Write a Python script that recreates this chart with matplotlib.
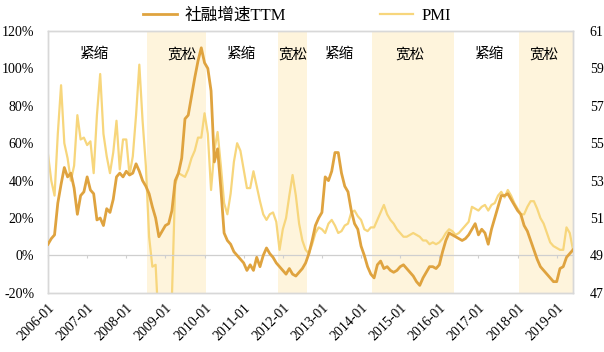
import matplotlib
matplotlib.use("Agg")
import matplotlib.pyplot as plt
import numpy as np
import pandas as pd
from matplotlib.ticker import FuncFormatter

plt.rcParams['font.family'] = ['Liberation Serif', 'Noto Sans CJK SC', 'DejaVu Sans']

# monthly, 2006-01 .. 2019-06
ttm = [6, 9, 11, 28, 38, 47, 42, 44, 36, 22, 32, 34,
       42, 35, 33, 19, 20, 16, 25, 23, 30, 42, 44, 42,
       45, 43, 44, 49, 45, 40, 37, 33, 26, 20, 10, 13,
       16, 17, 24, 40, 44, 52, 73, 75, 85, 95, 104, 111,
       103, 100, 88, 50, 57, 36, 12, 8, 6, 2, 0, -2,
       -4, -8, -5, -8, -1, -6, 0, 4, 1, -1, -4, -6,
       -8, -10, -7, -10, -11, -9, -7, -4, 1, 8, 16, 20,
       23, 42, 40, 45, 55, 55, 44, 37, 34, 24, 17, 14,
       5, 0, -6, -10, -12, -5, -3, -7, -6, -8, -9, -8,
       -6, -5, -7, -9, -11, -14, -16, -12, -9, -6, -6, -7,
       -5, 2, 8, 12, 11, 10, 9, 8, 9, 11, 14, 17,
       11, 14, 12, 6, 14, 20, 26, 32, 32, 33, 30, 27,
       24, 22, 16, 13, 8, 3, -2, -6, -8, -10, -12, -14,
       -14, -7, -6, -1, 1, 3]
pmi = [54.4, 53.0, 52.2, 55.5, 58.1, 55.0, 54.2, 53.0, 53.8, 56.5, 55.2, 55.3,
       54.9, 55.1, 53.4, 56.5, 58.7, 55.5, 54.3, 53.4, 54.5, 56.2, 53.6, 55.2,
       55.2, 53.3, 54.3, 56.5, 59.2, 56.2, 53.8, 50.0, 48.4, 48.5, 45.0, 42.0,
       42.0, 44.0, 46.8, 52.8, 53.4, 53.3, 53.2, 53.6, 54.2, 54.6, 55.3, 55.3,
       56.6, 55.5, 52.5, 54.6, 55.6, 53.8, 51.8, 51.2, 52.3, 54.0, 55.0, 54.6,
       53.6, 52.6, 52.6, 53.5, 52.7, 51.9, 51.2, 50.9, 51.2, 51.3, 50.8, 49.3,
       50.4, 51.0, 52.2, 53.3, 52.2, 50.7, 49.8, 49.3, 49.1, 49.6, 50.2, 50.5,
       50.4, 50.2, 50.7, 50.9, 50.6, 50.2, 50.3, 50.6, 50.7, 51.3, 51.4, 51.1,
       50.9, 50.4, 50.3, 50.5, 50.5, 50.9, 51.3, 51.7, 51.2, 50.9, 50.7, 50.4,
       50.2, 50.0, 50.0, 50.1, 50.2, 50.1, 50.0, 49.8, 49.8, 49.6, 49.7, 49.6,
       49.7, 49.9, 50.2, 50.4, 50.3, 50.1, 50.2, 50.4, 50.6, 50.8, 51.6, 51.5,
       51.4, 51.6, 51.7, 51.4, 51.7, 51.8, 52.2, 52.4, 52.1, 52.5, 52.2, 51.8,
       51.5, 51.2, 51.2, 51.6, 51.9, 51.9, 51.5, 51.0, 50.7, 50.2, 49.7, 49.5,
       49.4, 49.3, 49.3, 50.5, 50.2, 49.3]
months = pd.date_range("2006-01", periods=len(ttm), freq="MS").strftime("%Y-%m").tolist()

# easing periods
easing = [("2008-08", "2010-01"), ("2011-12", "2012-08"),
          ("2014-05", "2016-05"), ("2018-02", "2019-06")]
phase_labels = [("紧缩", "2007-03"), ("宽松", "2009-06"), ("紧缩", "2010-12"),
                ("宽松", "2012-04"), ("紧缩", "2013-06"), ("宽松", "2015-04"),
                ("紧缩", "2017-04"), ("宽松", "2018-09")]

C_TTM = "#DFA33F"
C_PMI = "#F7D67C"
C_SHADE = "#FEF4DC"
C_GRID = "#CFCFCF"

x = np.arange(len(ttm))
idx = {m: i for i, m in enumerate(months)}

fig = plt.figure(figsize=(6.04, 3.52), dpi=100)
ax = fig.add_axes([0.0795, 0.168, 0.8692, 0.744])
ax2 = ax.twinx()
ax.set_zorder(ax2.get_zorder() + 1)
ax.patch.set_visible(False)

for a, b in easing:
    ax2.axvspan(idx[a] - 0.5, idx[b] + 0.5, color=C_SHADE, lw=0, zorder=0)

l2, = ax2.plot(x, pmi, color=C_PMI, lw=1.6, label="PMI", zorder=2)
l1, = ax.plot(x, ttm, color=C_TTM, lw=2.0, label="社融增速TTM", zorder=3)

ax.set_xlim(0, len(ttm) - 1)
ax.set_ylim(-20, 120)
ax.set_yticks(np.arange(-20, 121, 20))
ax.yaxis.set_major_formatter(FuncFormatter(lambda v, p: f"{v:.0f}%"))
ax2.set_ylim(47, 61)
ax2.set_yticks(np.arange(47, 62, 2))

years = [i for i, m in enumerate(months) if m.endswith("-01")]
ax.set_xticks(years)
ax.set_xticklabels([months[i] for i in years], rotation=45, ha="right",
                   rotation_mode="anchor")
ax.tick_params(axis="x", length=0, pad=6, labelsize=10)
ax.tick_params(axis="y", length=0, pad=10, labelsize=10)
ax2.tick_params(axis="y", length=0, pad=12, labelsize=10)

# zero line with small year ticks
sec = ax.secondary_xaxis(20 / 140)
sec.set_xticks(years)
sec.tick_params(length=2.5, color=C_GRID, labelbottom=False)
sec.spines["bottom"].set_color(C_GRID)
sec.spines["bottom"].set_linewidth(0.9)

for a in (ax, ax2):
    for s in a.spines.values():
        s.set_color("#D8D8D8")
        s.set_linewidth(1.0)

for txt, m in phase_labels:
    ax.text(idx[m], 107.5, txt, ha="center", va="center", fontsize=10.5,
            family=["Noto Sans CJK SC"])

fig.legend([l1, l2], ["社融增速TTM", "PMI"], loc="upper center",
           bbox_to_anchor=(0.492, 1.02), ncol=2, frameon=False,
           fontsize=12, handlelength=2.0, columnspacing=5.6, handletextpad=0.5)

fig.savefig("out.png", dpi=100)
